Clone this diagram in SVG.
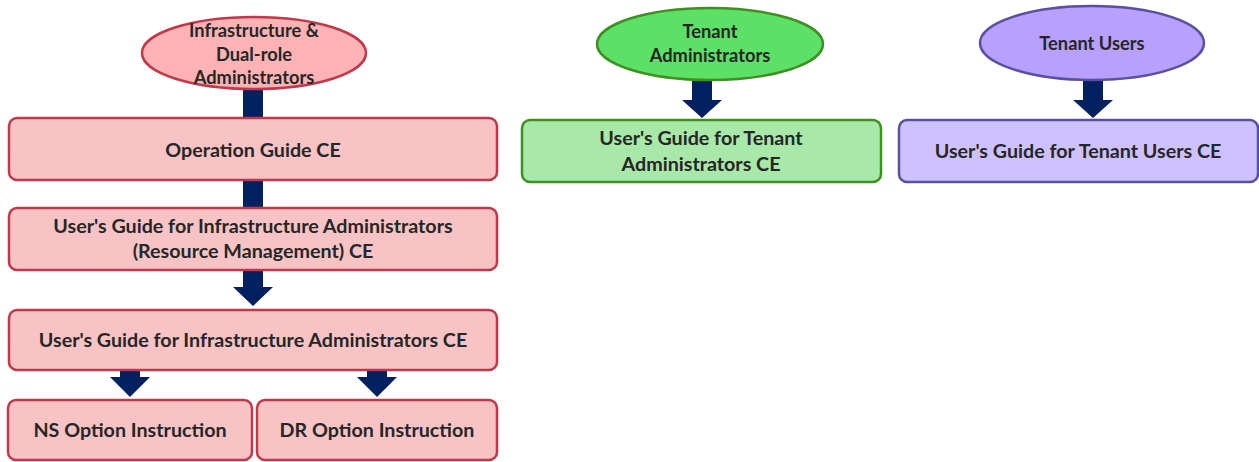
<svg xmlns="http://www.w3.org/2000/svg" width="1259" height="462" viewBox="0 0 1259 462">
<style>
text{font-family:Lato,"Open Sans","Liberation Sans",sans-serif;font-weight:bold;fill:#262626;text-anchor:middle}
.t{font-size:19.7px}
.s{font-size:18.3px}
.red{fill:#F8C3C4;stroke:#C0394B;stroke-width:2.5}
.redE{fill:#FFB3B5;stroke:#C0394B;stroke-width:2.5}
.grn{fill:#A8E8A8;stroke:#3F8F22;stroke-width:2.5}
.grnE{fill:#5CE065;stroke:#3F8F22;stroke-width:2.5}
.pur{fill:#CDC2FF;stroke:#5B4FA0;stroke-width:2.5}
.purE{fill:#B7A0FF;stroke:#5B4FA0;stroke-width:2.5}
.c{fill:#002060}
</style>
<rect width="1259" height="462" fill="#fff"/>
<g id="connectors">
<rect class="c" x="243" y="90" width="20" height="29"/>
<rect class="c" x="243" y="180" width="20" height="29"/>
<path class="c" d="M243 270H263V287H273L253 306L233 287H243Z"/>
<path class="c" d="M120 370H140V377H150L130 397L110 377H120Z"/>
<path class="c" d="M367 370H387V377H397L377 397L357 377H367Z"/>
<path class="c" d="M692 80H712V100H722L702 118L682 100H692Z"/>
<path class="c" d="M1083 80H1103V100H1113L1093 118L1073 100H1083Z"/>
</g>
<g id="infra">
<ellipse class="redE" cx="254" cy="53" rx="112" ry="36"/>
<text class="s" x="254" y="37">Infrastructure &amp;</text>
<text class="s" x="254" y="61">Dual-role</text>
<text class="s" x="254" y="84">Administrators</text>
</g>
<g id="opguide">
<rect class="red" x="9" y="118" width="488" height="62" rx="8"/>
<text class="t" x="253" y="157">Operation Guide CE</text>
</g>
<g id="infraRM">
<rect class="red" x="9" y="208" width="488" height="62" rx="8"/>
<text class="t" x="253" y="233">User's Guide for Infrastructure Administrators</text>
<text class="t" x="253" y="258">(Resource Management) CE</text>
</g>
<g id="infraCE">
<rect class="red" x="9" y="310" width="488" height="60" rx="8"/>
<text class="t" x="253" y="347">User's Guide for Infrastructure Administrators CE</text>
</g>
<g id="ns">
<rect class="red" x="8" y="400" width="244" height="60" rx="8"/>
<text class="t" x="130" y="437">NS Option Instruction</text>
</g>
<g id="dr">
<rect class="red" x="257" y="400" width="240" height="60" rx="8"/>
<text class="t" x="377" y="437">DR Option Instruction</text>
</g>
<g id="tenantAdm">
<ellipse class="grnE" cx="710" cy="44" rx="113" ry="36"/>
<text class="s" x="710" y="38">Tenant</text>
<text class="s" x="710" y="62">Administrators</text>
</g>
<g id="tenantAdmGuide">
<rect class="grn" x="522" y="120" width="359" height="62" rx="8"/>
<text class="t" x="701" y="145">User's Guide for Tenant</text>
<text class="t" x="701" y="171">Administrators CE</text>
</g>
<g id="tenantUsers">
<ellipse class="purE" cx="1092" cy="43" rx="112" ry="37"/>
<text class="s" x="1092" y="50">Tenant Users</text>
</g>
<g id="tenantUsersGuide">
<rect class="pur" x="899" y="120" width="359" height="62" rx="8"/>
<text class="t" x="1078" y="158">User's Guide for Tenant Users CE</text>
</g>
</svg>
